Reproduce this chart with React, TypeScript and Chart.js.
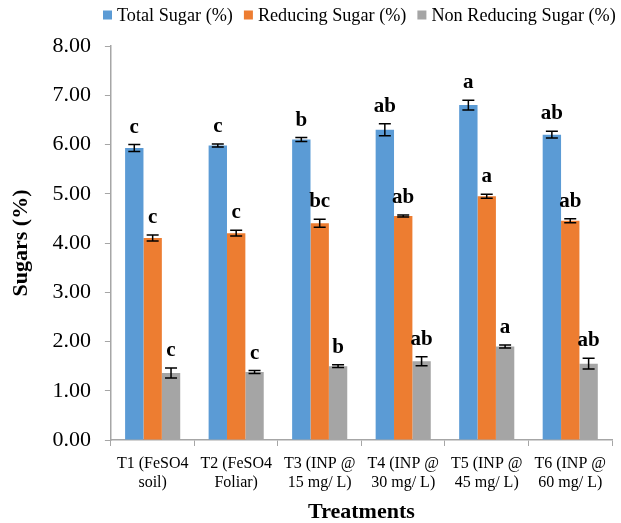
import React, { useEffect, useRef } from "react";
import { Chart, registerables } from "chart.js";

Chart.register(...registerables);

const categories: string[][] = [
  ["T1 (FeSO4", "soil)"],
  ["T2 (FeSO4", "Foliar)"],
  ["T3 (INP @", "15 mg/ L)"],
  ["T4 (INP @", "30 mg/ L)"],
  ["T5 (INP @", "45 mg/ L)"],
  ["T6 (INP @", "60 mg/ L)"],
];

const totalSugar = [5.93, 5.98, 6.1, 6.3, 6.8, 6.2];
const totalSugarErr = [0.07, 0.03, 0.04, 0.12, 0.1, 0.07];
const totalSugarLetters = ["c", "c", "b", "ab", "a", "ab"];

const reducingSugar = [4.1, 4.2, 4.4, 4.55, 4.95, 4.45];
const reducingSugarErr = [0.06, 0.06, 0.08, 0.02, 0.04, 0.04];
const reducingSugarLetters = ["c", "c", "bc", "ab", "a", "ab"];

const nonReducingSugar = [1.36, 1.38, 1.5, 1.6, 1.9, 1.55];
const nonReducingSugarErr = [0.1, 0.03, 0.03, 0.09, 0.03, 0.11];
const nonReducingSugarLetters = ["c", "c", "b", "ab", "a", "ab"];

const yTicks = [0, 1, 2, 3, 4, 5, 6, 7, 8];

const FONT = "'Liberation Serif', 'Times New Roman', serif";

const errorPlugin = {
  id: "errorLetters",
  afterDatasetsDraw(chart: any) {
    const ctx = chart.ctx;
    const yScale = chart.scales.y;
    chart.data.datasets.forEach((ds: any, di: number) => {
      const meta = chart.getDatasetMeta(di);
      meta.data.forEach((bar: any, i: number) => {
        const v = ds.data[i];
        const e = ds.errors[i];
        const x = bar.x;
        const yTop = yScale.getPixelForValue(v + e);
        const yBot = yScale.getPixelForValue(v - e);
        const cap = 6;
        ctx.save();
        ctx.strokeStyle = "#000";
        ctx.lineWidth = 1.5;
        ctx.beginPath();
        ctx.moveTo(x, yTop);
        ctx.lineTo(x, yBot);
        ctx.moveTo(x - cap, yTop);
        ctx.lineTo(x + cap, yTop);
        ctx.moveTo(x - cap, yBot);
        ctx.lineTo(x + cap, yBot);
        ctx.stroke();
        ctx.fillStyle = "#000";
        ctx.font = `bold 21px ${FONT}`;
        ctx.textAlign = "center";
        ctx.textBaseline = "alphabetic";
        ctx.fillText(ds.letters[i], x, yTop - 12);
        ctx.restore();
      });
    });
  },
};

const legendPlugin = {
  id: "customLegend",
  afterDraw(chart: any) {
    const ctx = chart.ctx;
    const startX = 103;
    const cy = 15;
    const box = 9;
    let x = startX;
    ctx.save();
    ctx.font = `18.2px ${FONT}`;
    ctx.textBaseline = "middle";
    ctx.textAlign = "left";
    chart.data.datasets.forEach((ds: any) => {
      ctx.fillStyle = ds.backgroundColor;
      ctx.fillRect(x, cy - box / 2, box, box);
      x += box + 5;
      ctx.fillStyle = "#000";
      ctx.fillText(ds.label, x, cy + 1);
      x += ctx.measureText(ds.label).width + 11;
    });
    ctx.restore();
  },
};

export default function App() {
  const ref = useRef<HTMLCanvasElement | null>(null);

  useEffect(() => {
    document.body.style.margin = "0";
    if (!ref.current) return;
    const chart = new Chart(ref.current, {
      type: "bar",
      data: {
        labels: categories as any,
        datasets: [
          {
            label: "Total Sugar (%)",
            data: totalSugar,
            backgroundColor: "#5B9BD5",
            errors: totalSugarErr,
            letters: totalSugarLetters,
          } as any,
          {
            label: "Reducing Sugar (%)",
            data: reducingSugar,
            backgroundColor: "#ED7D31",
            errors: reducingSugarErr,
            letters: reducingSugarLetters,
          } as any,
          {
            label: "Non Reducing Sugar (%)",
            data: nonReducingSugar,
            backgroundColor: "#A5A5A5",
            errors: nonReducingSugarErr,
            letters: nonReducingSugarLetters,
          } as any,
        ],
      },
      options: {
        animation: false,
        responsive: false,
        maintainAspectRatio: false,
        devicePixelRatio: 1,
        layout: { padding: { top: 46, right: 9, left: 8, bottom: 0 } },
        datasets: {
          bar: { categoryPercentage: 0.66, barPercentage: 1 },
        },
        plugins: {
          legend: { display: false },
          tooltip: { enabled: false },
        },
        scales: {
          x: {
            afterFit(scale: any) {
              scale.height = 83;
            },
            grid: {
              display: true,
              drawOnChartArea: false,
              drawTicks: true,
              tickLength: 6,
              color: "#a6a6a6",
              offset: true,
            },
            border: { color: "#a6a6a6", width: 1.5 },
            ticks: {
              color: "#000",
              font: { family: FONT, size: 16 },
              maxRotation: 0,
              autoSkip: false,
              padding: 8,
            },
            title: {
              display: true,
              text: "Treatments",
              color: "#000",
              font: { family: FONT, size: 22, weight: "bold", lineHeight: 1.0 },
              padding: { top: 4, bottom: 0 },
            },
          },
          y: {
            min: 0,
            max: 8,
            afterBuildTicks(scale: any) {
              scale.ticks = yTicks.map((v) => ({ value: v }));
            },
            grid: {
              display: true,
              drawOnChartArea: false,
              drawTicks: true,
              tickLength: 6,
              color: "#a6a6a6",
            },
            border: { color: "#a6a6a6", width: 1.5 },
            ticks: {
              color: "#000",
              font: { family: FONT, size: 22 },
              padding: 14,
              callback: (v: any) => Number(v).toFixed(2),
            },
            title: {
              display: true,
              text: "Sugars (%)",
              color: "#000",
              font: { family: FONT, size: 22, weight: "bold" },
              padding: { top: 0, bottom: 4 },
            },
          },
        },
      },
      plugins: [errorPlugin, legendPlugin],
    } as any);
    return () => chart.destroy();
  }, []);

  return (
    <div style={{ position: "absolute", left: 0, top: 0, width: 621, height: 523 }}>
      <canvas ref={ref} width={621} height={523} style={{ width: 621, height: 523 }} />
    </div>
  );
}
